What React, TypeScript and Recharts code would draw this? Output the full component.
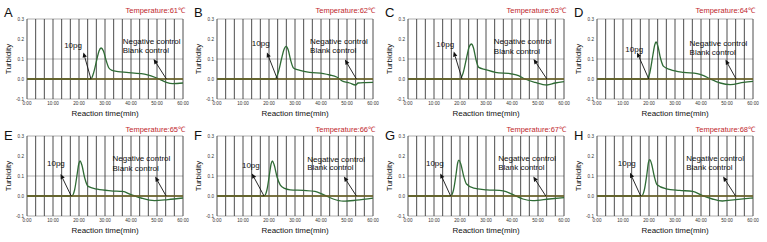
import { LineChart, Line, XAxis, YAxis, CartesianGrid, ReferenceLine, ReferenceDot } from "recharts";

const panelLetters = ["A", "B", "C", "D", "E", "F", "G", "H"];
const temperatures = [61, 62, 63, 64, 65, 66, 67, 68];

const xTicks = [0, 10, 20, 30, 40, 50, 60];
const xTickLabels = ["0:00", "10:00", "20:00", "30:00", "40:00", "50:00", "60:00"];
const yTicks = [-0.1, 0, 0.1, 0.2, 0.3];
const gridMinutes = Array.from({ length: 19 }, (_, i) => (i * 60) / 18);

// 10pg curves (time in min, turbidity)
const timesA = [0, 24.6, 25.6, 26.9, 27.7, 28.5, 29.4, 30.5, 31.5, 32.7, 35, 38.3, 43.7, 46, 49.9, 53.6, 56, 60];
const curveA = [0, 0, 0.03, 0.1, 0.14, 0.155, 0.14, 0.09, 0.055, 0.043, 0.037, 0.033, 0.027, 0.022, 0.005, -0.017, -0.023, -0.02];
const timesB = [0, 22.3, 23.5, 24.8, 25.7, 26.6, 27.4, 28.3, 29.4, 31.9, 35.7, 40.9, 43.4, 46, 48.5, 51, 53.3, 54.3, 57, 60];
const curveB = [0, 0, 0.03, 0.1, 0.145, 0.163, 0.145, 0.095, 0.055, 0.043, 0.033, 0.027, 0.02, 0.01, -0.012, -0.02, -0.03, -0.02, -0.018, -0.017];
const timesC = [0, 19.9, 21.2, 22.6, 23.5, 24.4, 25.2, 26.1, 27.2, 29.8, 33.6, 40, 42.5, 45, 48.9, 53.4, 56.6, 60];
const curveC = [0, 0, 0.03, 0.11, 0.16, 0.175, 0.155, 0.1, 0.058, 0.047, 0.033, 0.025, 0.017, 0, -0.017, -0.03, -0.02, -0.013];
const timesD = [0, 19.2, 20.3, 21.5, 22.2, 22.7, 23.4, 24.4, 25.6, 28.2, 33.3, 38.5, 41, 43.6, 47.4, 51.3, 56.4, 60];
const curveD = [0, 0, 0.03, 0.12, 0.17, 0.185, 0.165, 0.105, 0.063, 0.047, 0.033, 0.027, 0.017, 0, -0.02, -0.028, -0.017, -0.012];
const timesE = [0, 17.2, 18.3, 19.3, 19.9, 20.4, 21.1, 22.2, 23.5, 27.1, 32.3, 36.8, 40, 43.9, 49, 54.2, 60];
const curveE = [0, 0, 0.03, 0.11, 0.16, 0.175, 0.155, 0.09, 0.048, 0.034, 0.026, 0.023, 0.007, -0.01, -0.023, -0.018, -0.01];
const timesF = [0, 18.1, 19.2, 20.2, 20.8, 21.3, 22, 23.1, 24.3, 26, 28.1, 33.2, 37.7, 40.9, 44.7, 48.5, 53.6, 60];
const curveF = [0, 0, 0.03, 0.11, 0.16, 0.175, 0.155, 0.095, 0.056, 0.038, 0.031, 0.028, 0.023, 0.007, -0.015, -0.026, -0.021, -0.011];
const timesG = [0, 16.4, 17.5, 18.5, 19.1, 19.6, 20.3, 21.4, 22.5, 25.3, 30.3, 36.6, 40.4, 44.2, 48, 54.3, 60];
const curveG = [0, 0, 0.03, 0.11, 0.165, 0.179, 0.16, 0.1, 0.06, 0.039, 0.031, 0.026, 0.007, -0.015, -0.023, -0.015, -0.008];
const timesH = [0, 17.1, 18.2, 19.2, 19.8, 20.3, 21, 22, 23.1, 26.6, 31.7, 36.8, 40.6, 44.4, 48.2, 53.3, 60];
const curveH = [0, 0, 0.03, 0.11, 0.168, 0.182, 0.16, 0.1, 0.056, 0.036, 0.028, 0.023, 0.002, -0.015, -0.025, -0.018, -0.01];

const sampleTimes = [timesA, timesB, timesC, timesD, timesE, timesF, timesG, timesH];
const sampleCurves = [curveA, curveB, curveC, curveD, curveE, curveF, curveG, curveH];

// controls stay flat
const controlTimes = [0, 60];
const negativeControl = [0, 0];
const blankControl = [0, 0];

// annotation anchors (data units)
const sampleLabelX = [14.3, 13.4, 10.9, 10.9, 7.7, 9.6, 6.9, 8];
const sampleLabelY = [0.17, 0.18, 0.175, 0.15, 0.162, 0.154, 0.162, 0.162];
const sampleHeadX = [21.7, 19.2, 17.6, 15.4, 12.9, 13.4, 12.4, 12.7];
const sampleHeadY = [0.133, 0.133, 0.137, 0.133, 0.11, 0.113, 0.113, 0.116];
const sampleTailX = [24.6, 23.2, 20.8, 19.9, 17, 18.1, 16.4, 16.8];
const controlLabelX = [36.8, 35.8, 33, 35.6, 32.9, 34.7, 34.7, 34.3];
const negativeLabelY = [0.188, 0.188, 0.187, 0.18, 0.187, 0.184, 0.187, 0.187];
const blankLabelY = [0.143, 0.143, 0.137, 0.133, 0.138, 0.141, 0.141, 0.143];
const controlHeadX = [48.7, 49.2, 48.3, 49.4, 49.3, 48.8, 48.2, 48.5];
const controlHeadY = [0.1, 0.097, 0.1, 0.097, 0.097, 0.097, 0.097, 0.097];
const controlTailX = [53.6, 53.6, 53.4, 53.5, 53.5, 53.6, 53, 53.3];

const FONT = "'Liberation Sans', Arial, sans-serif";
const panelLeft = [0, 190, 381, 570];
const rowTop = [0, 117];

const Arrow = (props: any) => {
  const { x1, y1, x2, y2 } = props;
  const dx = x2 - x1;
  const dy = y2 - y1;
  const len = Math.hypot(dx, dy) || 1;
  const ux = dx / len;
  const uy = dy / len;
  const bx = x2 - ux * 5;
  const by = y2 - uy * 5;
  const pts = `${x2},${y2} ${bx - uy * 2.2},${by + ux * 2.2} ${bx + uy * 2.2},${by - ux * 2.2}`;
  return (
    <g>
      <line x1={x1} y1={y1} x2={bx} y2={by} stroke="#111" strokeWidth={0.9} />
      <polygon points={pts} fill="#111" />
    </g>
  );
};

const textAt = (value: string) => (p: any) => (
  <text x={p.cx} y={p.cy} dominantBaseline="central" fontSize={8} fontFamily={FONT} fill="#111">
    {value}
  </text>
);

const Panel = ({ i }: { i: number }) => {
  const row = Math.floor(i / 4);
  const col = i % 4;
  const curve = sampleTimes[i].map((t, k) => ({ t, v: sampleCurves[i][k] }));
  const neg = controlTimes.map((t, k) => ({ t, v: negativeControl[k] }));
  const blank = controlTimes.map((t, k) => ({ t, v: blankControl[k] }));
  return (
    <div style={{ position: "absolute", left: panelLeft[col], top: rowTop[row], width: 190, height: 120 }}>
      <span
        style={{ position: "absolute", left: 4, top: row === 0 ? 6 : 12, fontSize: 13, lineHeight: 1, fontFamily: FONT, color: "#111" }}
      >
        {panelLetters[i]}
      </span>
      <span
        style={{ position: "absolute", right: 5, top: row === 0 ? 7 : 9, fontSize: 7.5, lineHeight: 1, fontFamily: FONT, color: "#c0272d" }}
      >
        Temperature:{temperatures[i]}℃
      </span>
      <LineChart width={190} height={120} margin={{ top: 19, right: 7, bottom: 4, left: 0 }}>
        <CartesianGrid vertical={false} stroke="#9a9a9a" strokeWidth={0.8} />
        {gridMinutes.map((m) => (
          <ReferenceLine key={m} x={m} stroke="#3a3a3a" strokeWidth={0.9} />
        ))}
        <XAxis
          type="number"
          dataKey="t"
          domain={[0, 60]}
          ticks={xTicks}
          tickFormatter={(v: number) => xTickLabels[xTicks.indexOf(v)]}
          axisLine={false}
          tickLine={false}
          tickSize={2}
          tickMargin={1}
          height={17}
          tick={{ fontSize: 4.6, fill: "#333", fontFamily: FONT }}
          label={{ value: "Reaction time(min)", position: "insideBottom", offset: 0, fontSize: 8, fill: "#111", fontFamily: FONT }}
        />
        <YAxis
          type="number"
          domain={[-0.1, 0.3]}
          ticks={yTicks}
          tickFormatter={(v: number) => v.toFixed(1)}
          axisLine={false}
          tickLine={false}
          tickSize={2}
          tickMargin={1}
          width={27}
          tick={{ fontSize: 4.6, fill: "#333", fontFamily: FONT }}
          label={{
            value: "Turbidity",
            angle: -90,
            position: "insideLeft",
            offset: 8,
            fontSize: 8,
            fill: "#111",
            fontFamily: FONT,
            style: { textAnchor: "middle" },
          }}
        />
        <Line data={curve} dataKey="v" type="monotone" stroke="#2f6b35" strokeWidth={1.3} dot={false} isAnimationActive={false} />
        <Line data={neg} dataKey="v" stroke="#111" strokeWidth={1.4} dot={false} isAnimationActive={false} />
        <Line data={blank} dataKey="v" stroke="#b5a63a" strokeWidth={0.9} dot={false} isAnimationActive={false} />
        <ReferenceLine
          segment={[
            { x: sampleTailX[i], y: 0 },
            { x: sampleHeadX[i], y: sampleHeadY[i] },
          ]}
          shape={Arrow}
        />
        <ReferenceLine
          segment={[
            { x: controlTailX[i], y: 0 },
            { x: controlHeadX[i], y: controlHeadY[i] },
          ]}
          shape={Arrow}
        />
        <ReferenceDot x={sampleLabelX[i]} y={sampleLabelY[i]} r={0} shape={textAt("10pg")} />
        <ReferenceDot x={controlLabelX[i]} y={negativeLabelY[i]} r={0} shape={textAt("Negative control")} />
        <ReferenceDot x={controlLabelX[i]} y={blankLabelY[i]} r={0} shape={textAt("Blank control")} />
      </LineChart>
    </div>
  );
};

export default function App() {
  return (
    <div style={{ position: "absolute", left: 0, top: 0, width: 767, height: 242, background: "#fff" }}>
      {panelLetters.map((_, i) => (
        <Panel key={i} i={i} />
      ))}
    </div>
  );
}
